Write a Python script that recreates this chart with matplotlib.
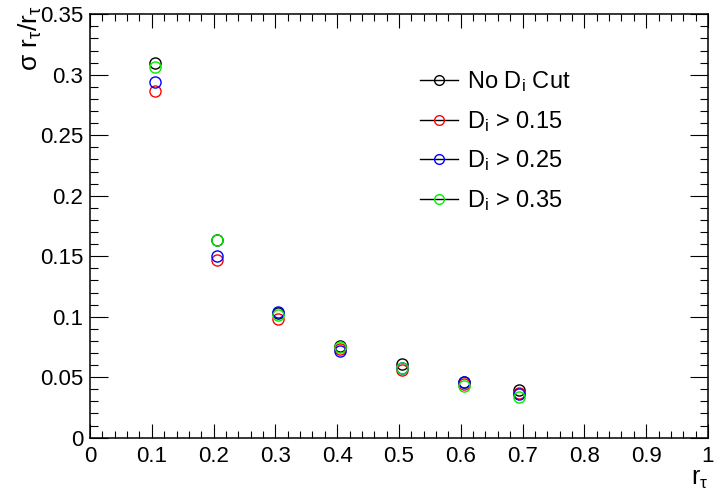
import matplotlib
matplotlib.use("Agg")
import matplotlib.pyplot as plt
from matplotlib.lines import Line2D
from matplotlib.ticker import MultipleLocator, FuncFormatter

plt.rcParams["font.family"] = ["Liberation Sans", "DejaVu Sans"]
plt.rcParams["mathtext.fontset"] = "custom"
plt.rcParams["mathtext.rm"] = "Liberation Sans"
plt.rcParams["mathtext.it"] = "Liberation Sans:italic"

# relative resolution of r_tau for each D_i cut
r_tau = [0.105, 0.205, 0.305, 0.405, 0.505, 0.605, 0.695]
no_cut = [0.3095, 0.1635, 0.1030, 0.0760, 0.0612, 0.0460, 0.0394]
cut_015 = [0.2870, 0.1465, 0.0980, 0.0730, 0.0560, 0.0445, 0.0370]
cut_025 = [0.2943, 0.1505, 0.1040, 0.0715, 0.0580, 0.0463, 0.0358]
cut_035 = [0.3067, 0.1632, 0.1013, 0.0750, 0.0573, 0.0427, 0.0340]

labels = ["No D$_\\mathrm{i}$ Cut", "D$_\\mathrm{i}$ > 0.15",
          "D$_\\mathrm{i}$ > 0.25", "D$_\\mathrm{i}$ > 0.35"]
colors = ["black", "#ff0000", "#0000ff", "#00ee00"]

fig = plt.figure(figsize=(7.17, 4.93), dpi=100)
ax = fig.add_axes([0.1255, 0.1122, 0.8619, 0.8588])

for ys, c in zip([no_cut, cut_015, cut_025, cut_035], colors):
    ax.plot(r_tau, ys, ls="none", marker="o", ms=8, mfc="none", mec=c, mew=1.0)

ax.set_xlim(0, 1)
ax.set_ylim(0, 0.35)
ax.xaxis.set_major_locator(MultipleLocator(0.1))
ax.xaxis.set_minor_locator(MultipleLocator(0.02))
ax.yaxis.set_major_locator(MultipleLocator(0.05))
ax.yaxis.set_minor_locator(MultipleLocator(0.01))
fmt = FuncFormatter(lambda v, p: "%g" % round(v, 3))
ax.xaxis.set_major_formatter(fmt)
ax.yaxis.set_major_formatter(fmt)

ax.tick_params(which="both", direction="in", top=True, right=True,
               labelsize=16, width=0.8)
ax.tick_params(axis="x", which="major", length=10, pad=6)
ax.tick_params(axis="x", which="minor", length=5)
ax.tick_params(axis="y", which="major", length=13, pad=5)
ax.tick_params(axis="y", which="minor", length=6)
for s in ax.spines.values():
    s.set_linewidth(1.1)

ax.set_ylabel("σ r$_\\mathrm{τ}$/r$_\\mathrm{τ}$", fontsize=19)
ax.yaxis.set_label_coords(-0.075, 1.022)
ax.yaxis.label.set_ha("right")
ax.set_xlabel("r$_\\mathrm{τ}$", fontsize=18)
ax.xaxis.set_label_coords(1.0, -0.07)
ax.xaxis.label.set_ha("right")

handles = [Line2D([], [], color="black", lw=1, marker="o", ms=7,
                  mfc="none", mec=c, mew=1.0) for c in colors]
ax.legend(handles, labels, loc="upper left", bbox_to_anchor=(0.534, 0.87),
          frameon=False, fontsize=17, handlelength=1.6, handletextpad=0.4,
          labelspacing=0.62, borderpad=0, borderaxespad=0)

fig.savefig("out.png", dpi=100)
